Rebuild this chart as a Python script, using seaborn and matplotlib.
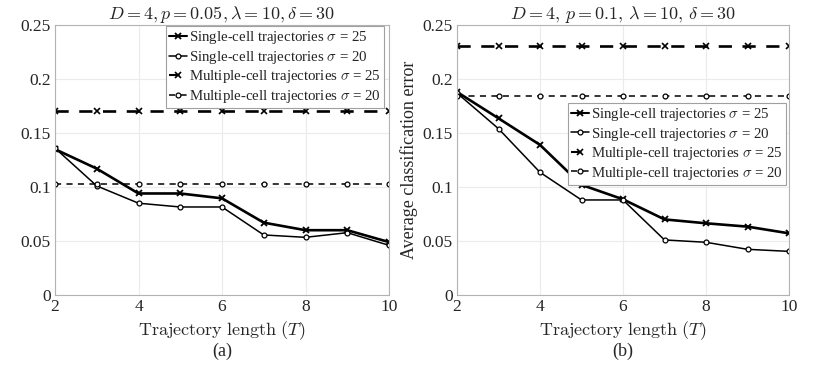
import matplotlib
matplotlib.use("Agg")
import matplotlib.pyplot as plt
import seaborn as sns
import numpy as np
import pandas as pd

sns.set_theme(style="white")
plt.rcParams['font.family'] = ['Liberation Serif', 'DejaVu Serif']
plt.rcParams['mathtext.fontset'] = 'cm'

T = [2, 3, 4, 5, 6, 7, 8, 9, 10]

# Panel (a)
a_single25 = [0.135, 0.117, 0.094, 0.094, 0.0895, 0.067, 0.060, 0.060, 0.049]
a_single20 = [0.136, 0.101, 0.085, 0.0815, 0.0815, 0.0556, 0.0534, 0.0577, 0.046]
a_multi25 = [0.170] * 9
a_multi20 = [0.103] * 9

# Panel (b)
b_single25 = [0.188, 0.1636, 0.139, 0.102, 0.0886, 0.070, 0.0664, 0.0633, 0.0571]
b_single20 = [0.187, 0.154, 0.1136, 0.088, 0.088, 0.051, 0.0488, 0.0423, 0.0404]
b_multi25 = [0.2306] * 9
b_multi20 = [0.1846] * 9

labels = [r"Single-cell trajectories $\sigma$ = 25",
          r"Single-cell trajectories $\sigma$ = 20",
          r"Multiple-cell trajectories $\sigma$ = 25",
          r"Multiple-cell trajectories $\sigma$ = 20"]

titles = [r"$D=4, p=0.05, \lambda=10, \delta=30$",
          r"$D=4,\, p=0.1,\, \lambda=10,\, \delta=30$"]
subcaps = ["(a)", "(b)"]
yticks = [0, 0.05, 0.1, 0.15, 0.2, 0.25]
yticklabels = ["0", "0.05", "0.1", "0.15", "0.2", "0.25"]
xticks = [2, 4, 6, 8, 10]

styles = [
    dict(marker='x', linestyle='-', linewidth=1.9, markersize=4, markeredgewidth=1.3),
    dict(marker='o', linestyle='-', linewidth=1.1, markersize=3.5, markeredgewidth=0.9, markerfacecolor='white'),
    dict(marker='x', linestyle=(0, (5, 4)), linewidth=1.9, markersize=4, markeredgewidth=1.2),
    dict(marker='o', linestyle=(0, (4, 3.5)), linewidth=1.1, markersize=3.5, markeredgewidth=0.9, markerfacecolor='white'),
]

fig = plt.figure(figsize=(8.3, 3.68), dpi=100)
W, H = 830, 368
def axpos(x0, x1, y0, y1):
    return [x0 / W, 1 - y1 / H, (x1 - x0) / W, (y1 - y0) / H]

ax_a = fig.add_axes(axpos(55, 389, 25, 295))
ax_b = fig.add_axes(axpos(457, 789, 25, 295))

panels = [(ax_a, [a_single25, a_single20, a_multi25, a_multi20]),
          (ax_b, [b_single25, b_single20, b_multi25, b_multi20])]

for i, (ax, series) in enumerate(panels):
    for vals, lab, st in zip(series, labels, styles):
        df = pd.DataFrame({"T": T, "err": vals})
        sns.lineplot(data=df, x="T", y="err", ax=ax, color='black', label=lab,
                     markeredgecolor='black', **st)
    ax.set_xlim(2, 10)
    ax.set_ylim(0, 0.25)
    ax.set_xticks(xticks)
    ax.set_xticklabels([str(v) for v in xticks], fontsize=12.5)
    ax.set_yticks(yticks)
    ax.set_yticklabels(yticklabels, fontsize=12.5)
    ax.grid(True, color='#ebebeb', linewidth=0.8)
    ax.tick_params(length=0, pad=3)
    for s in ax.spines.values():
        s.set_color('#b3b3b3')
        s.set_linewidth(0.8)
    ax.set_title(titles[i], fontsize=13, pad=4)
    ax.set_xlabel(r"$\mathrm{Trajectory\ length\ } (T)$", fontsize=13, labelpad=3)
    ax.set_ylabel("")
    cx = ax.get_position().x0 + ax.get_position().width / 2
    fig.text(cx, 1 - 351 / H, subcaps[i], ha='center', va='center', fontsize=13)

ax_b.set_ylabel("Average classification error", fontsize=13, labelpad=3)

leg_kw = dict(fontsize=10.7, frameon=True, fancybox=False, edgecolor='#a0a0a0',
              borderpad=0.2, labelspacing=0.17, handlelength=1.2, handletextpad=0.15,
              borderaxespad=0.0, framealpha=1)
la = ax_a.legend(loc='upper right', bbox_to_anchor=(0.985, 0.995), **leg_kw)
lb = ax_b.legend(loc='upper right', bbox_to_anchor=(0.99, 0.711), **leg_kw)
for l in (la, lb):
    l.get_frame().set_linewidth(0.8)
    for h in l.get_lines():
        h.set_linewidth(min(h.get_linewidth(), 1.5))

fig.savefig("out.png", dpi=100, facecolor='white')
